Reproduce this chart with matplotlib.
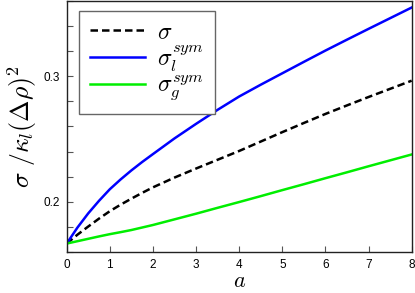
import numpy as np
import matplotlib
matplotlib.use("Agg")
import matplotlib.pyplot as plt
from matplotlib.ticker import FixedLocator

plt.rcParams['mathtext.fontset'] = 'cm'
plt.rcParams['font.family'] = ['Liberation Sans', 'DejaVu Sans']

a = [0, 0.25, 0.5, 0.75, 1, 1.25, 1.5, 1.75, 2, 2.5, 3, 3.5, 4, 4.5, 5, 5.5, 6, 6.5, 7, 7.5, 8]
sigma = [0.1667, 0.1738, 0.1803, 0.1866, 0.1925, 0.1977, 0.2025, 0.2071, 0.2115, 0.2193, 0.2265,
         0.2335, 0.2405, 0.2480, 0.2555, 0.2628, 0.2700, 0.2768, 0.2835, 0.2900, 0.2965]
sigma_l = [0.1667, 0.1795, 0.1908, 0.2008, 0.2100, 0.2178, 0.2250, 0.2317, 0.2380, 0.2505, 0.2621,
           0.2733, 0.2839, 0.2933, 0.3024, 0.3115, 0.3205, 0.3292, 0.3378, 0.3463, 0.3548]
sigma_g = [0.1667, 0.1686, 0.1705, 0.1724, 0.1742, 0.1758, 0.1775, 0.1795, 0.1815, 0.1860, 0.1905,
           0.1952, 0.1998, 0.2045, 0.2093, 0.2140, 0.2188, 0.2235, 0.2283, 0.2330, 0.2377]

fig = plt.figure(figsize=(4.15, 2.93), dpi=100)
ax = fig.add_axes([0.1607, 0.140, 0.8313, 0.8566])

ax.plot(a, sigma, color='black', ls=(0, (3, 1.6)), lw=1.8, label=r'$\sigma$')
ax.plot(a, sigma_l, color='#0000ff', lw=1.8, label=r'$\sigma_l^{sym}$')
ax.plot(a, sigma_g, color='#00ee00', lw=1.8, label=r'$\sigma_g^{sym}$')

ax.set_xlim(0, 8)
ax.set_ylim(0.16, 0.36)
ax.set_xticks(range(0, 9))
ax.set_yticks([0.2, 0.3])
ax.set_yticklabels(['0.2', '0.3'])
ax.yaxis.set_minor_locator(FixedLocator([0.16, 0.18, 0.22, 0.24, 0.26, 0.28, 0.32, 0.34, 0.36]))
ax.tick_params(which='both', direction='in', length=4, width=0.8, labelsize=8.5, color='#555555')
ax.tick_params(axis='x', pad=5)
ax.tick_params(axis='y', pad=5)
for s in ax.spines.values():
    s.set_linewidth(1.0)
    s.set_color('#222222')

ax.set_xlabel(r'$a$', fontsize=16, labelpad=0)
ax.set_ylabel(r'$\sigma\ /\kappa_l(\Delta\rho)^2$', fontsize=18.5, labelpad=3)

leg = ax.legend(loc='upper left', bbox_to_anchor=(0.036, 0.96), borderaxespad=0,
                fontsize=17, fancybox=False, framealpha=1, edgecolor='#666666',
                handlelength=2.35, handletextpad=0.5, labelspacing=0.0,
                borderpad=0.45)
leg.get_frame().set_linewidth(1.0)

fig.savefig('out.png', dpi=100)
